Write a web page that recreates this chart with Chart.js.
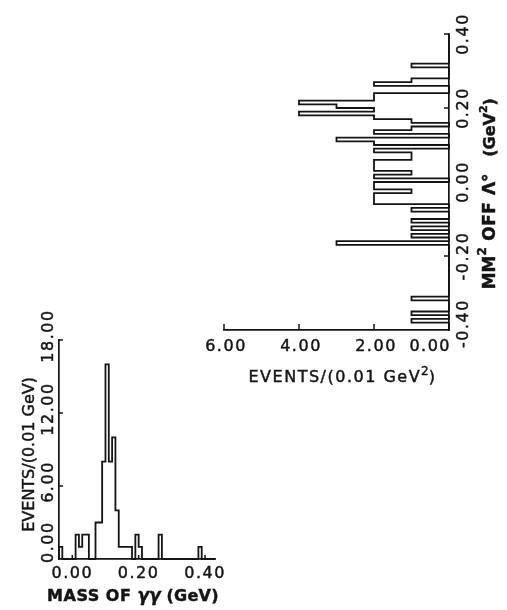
<!DOCTYPE html>
<html>
<head>
<meta charset="utf-8">
<script src="https://cdn.jsdelivr.net/npm/chart.js@4.4.1/dist/chart.umd.min.js"></script>
<style>
  html, body { margin: 0; padding: 0; background: #fff; }
  #wrap { position: relative; width: 507px; height: 610px; }
  #wrap canvas { position: absolute; left: 0; top: 0; }
</style>
</head>
<body>
<div id="wrap">
  <canvas id="mm" width="507" height="610"></canvas>
  <canvas id="gg" width="507" height="610"></canvas>
</div>
<script>
// ---- Missing mass squared off the Lambda: events per 0.01 GeV^2 bin, lowest bin (-0.40) first
const mmBinLow = -0.40;
const mmBinWidth = 0.01;
const mmCounts = [
  0, 0, 1, 0, 1, 0, 0, 0, 1, 0,
  0, 0, 0, 0, 0, 0, 0, 0, 0, 0,
  0, 0, 0, 3, 0, 1, 0, 1, 0, 1,
  0, 0, 1, 0, 2, 2, 2, 1, 2, 2,
  0, 2, 1, 2, 2, 2, 1, 1, 2, 0,
  2, 3, 0, 2, 1, 0, 1, 2, 4, 2,
  3, 4, 2, 2, 0, 0, 2, 1, 0, 0,
  0, 1, 0, 0, 0, 0, 0, 0, 0, 0
];
const mmTicks = [-0.40, -0.20, 0.00, 0.20, 0.40];
const mmTickLabels = ['-0.40', '-0.20', '0.00', '0.20', '0.40'];
const mmEventTicks = [0, 2, 4, 6];
const mmEventLabels = ['0.00', '2.00', '4.00', '6.00'];

// ---- Two-photon invariant mass: events per 0.01 GeV bin, lowest bin (-0.04) first
const ggBinLow = -0.04;
const ggBinWidth = 0.01;
const ggCounts = [
  1, 0, 0, 0, 0,
  2, 1, 2, 2, 0,
  0, 3, 3, 8, 16,
  8, 10, 4, 1, 1,
  1, 1, 0, 2, 1,
  0, 0, 0, 0, 0,
  2, 0, 0, 0, 0,
  0, 0, 0, 0, 0,
  0, 0, 1, 0, 0,
  0, 0
];
const ggMassTicks = [0.00, 0.20, 0.40];
const ggMassLabels = ['0.00', '0.20', '0.40'];
const ggEventTicks = [0, 6, 12, 18];
const ggEventLabels = ['0.00', '6.00', '12.00', '18.00'];

const INK = '#141414';
const FONT = '"DejaVu Sans", "Liberation Sans", sans-serif';

// Histogram outline: a step path along the bins, starting and ending on the baseline.
// When `sideways` is true the bins run along y and the counts along x.
function histOutline(counts, low, width, sideways) {
  const pt = (pos, c) => sideways ? { x: c, y: pos } : { x: pos, y: c };
  const edge = i => Math.round((low + i * width) * 10000) / 10000;
  const pts = [pt(edge(0), 0)];
  counts.forEach((c, i) => {
    pts.push(pt(edge(i), c));
    pts.push(pt(edge(i + 1), c));
  });
  pts.push(pt(edge(counts.length), 0));
  return pts;
}

function seg(ctx, x1, y1, x2, y2) {
  ctx.beginPath(); ctx.moveTo(x1, y1); ctx.lineTo(x2, y2); ctx.stroke();
}

// Filled text with a hairline stroke so it reads as heavy as pen-plotted lettering.
function inkText(ctx, text, x, y) {
  ctx.fillText(text, x, y);
  ctx.strokeText(text, x, y);
}

// Draw a list of text runs one after another along the current x direction.
function drawRuns(ctx, parts, x, y) {
  parts.forEach(p => {
    ctx.font = p.font;
    ctx.letterSpacing = p.ls || '0px';
    inkText(ctx, p.t, x, y + (p.dy || 0));
    x += ctx.measureText(p.t).width;
  });
  ctx.letterSpacing = '0px';
  return x;
}
function runsWidth(ctx, parts) {
  let w = 0;
  parts.forEach(p => {
    ctx.font = p.font; ctx.letterSpacing = p.ls || '0px';
    w += ctx.measureText(p.t).width;
  });
  ctx.letterSpacing = '0px';
  return w;
}

function rotLabel(ctx, text, x, y, align) {
  ctx.save();
  ctx.translate(x, y);
  ctx.rotate(-Math.PI / 2);
  ctx.textAlign = align || 'center';
  ctx.textBaseline = 'middle';
  inkText(ctx, text, 0, 0);
  ctx.restore();
}

function plainAxis(extra) {
  return Object.assign({
    type: 'linear',
    ticks: { display: false },
    grid: { display: false, drawTicks: false },
    border: { display: true, color: INK, width: 1.7 }
  }, extra);
}

const baseOptions = {
  responsive: false,
  animation: false,
  devicePixelRatio: 1,
  plugins: { legend: { display: false }, tooltip: { enabled: false } },
  elements: { point: { radius: 0 }, line: { tension: 0 } }
};

// ---------- Missing-mass-squared histogram (bins vertical, counts growing to the left)
const mmDecor = {
  id: 'mmDecor',
  afterDraw(chart) {
    const ctx = chart.ctx;
    const { left, right, top, bottom } = chart.chartArea;
    const xs = chart.scales.x, ys = chart.scales.y;
    ctx.save();
    ctx.strokeStyle = INK; ctx.fillStyle = INK; ctx.lineWidth = 1.5;
    mmTicks.forEach((v, i) => {
      if (i === 0) return;
      const py = ys.getPixelForValue(v);
      seg(ctx, right, py, right - 5, py);
    });
    mmEventTicks.forEach(v => {
      if (v === 0) return;
      const px = xs.getPixelForValue(v);
      seg(ctx, px, bottom, px, bottom - 6);
    });

    ctx.lineWidth = 0.45;
    ctx.font = '16px ' + FONT;
    ctx.letterSpacing = '1.5px';
    mmTicks.forEach((v, i) => {
      const py = ys.getPixelForValue(v);
      if (i === 0) rotLabel(ctx, mmTickLabels[i], right + 15, py + 18, 'left');
      else rotLabel(ctx, mmTickLabels[i], right + 15, py);
    });
    ctx.textBaseline = 'middle';
    mmEventTicks.forEach((v, i) => {
      const px = xs.getPixelForValue(v);
      ctx.textAlign = v === 0 ? 'right' : 'center';
      inkText(ctx, mmEventLabels[i], v === 0 ? px + 2 : px + 2, bottom + 17);
    });
    ctx.letterSpacing = '0px';

    // horizontal axis title
    const xt = [
      { t: 'EVENTS/(0.01 GeV', font: '16px ' + FONT, ls: '1.5px' },
      { t: '2', font: '12px ' + FONT, dy: -6 },
      { t: ')', font: '16px ' + FONT, ls: '1.5px' }
    ];
    ctx.textAlign = 'left'; ctx.textBaseline = 'middle';
    const w = runsWidth(ctx, xt);
    drawRuns(ctx, xt, (left + right) / 2 + 6 - w / 2, bottom + 48);

    // vertical axis title, reading upwards
    ctx.save();
    ctx.translate(right + 42, ys.getPixelForValue(-0.29));
    ctx.rotate(-Math.PI / 2);
    ctx.textAlign = 'left'; ctx.textBaseline = 'middle';
    drawRuns(ctx, [
      { t: 'MM', font: 'bold 17px ' + FONT },
      { t: '2', font: 'bold 12px ' + FONT, dy: -8 },
      { t: ' OFF ', font: 'bold 17px ' + FONT, ls: '0.5px' },
      { t: 'Λ°', font: 'bold 17px ' + FONT },
      { t: '   (GeV', font: 'bold 16px ' + FONT },
      { t: '2', font: 'bold 11px ' + FONT, dy: -7 },
      { t: ')', font: 'bold 16px ' + FONT }
    ], 0, 0);
    ctx.restore();
    ctx.restore();
  }
};

new Chart(document.getElementById('mm'), {
  type: 'scatter',
  data: {
    datasets: [{
      data: histOutline(mmCounts, mmBinLow, mmBinWidth, true),
      showLine: true,
      borderColor: INK,
      borderWidth: 1.8,
      pointRadius: 0,
      clip: false
    }]
  },
  options: Object.assign({}, baseOptions, {
    layout: { padding: { left: 224, right: 58, top: 34, bottom: 280 } },
    scales: {
      x: plainAxis({ min: 0, max: 6, reverse: true, position: 'bottom' }),
      y: plainAxis({ min: -0.40, max: 0.40, position: 'right' })
    }
  }),
  plugins: [mmDecor]
});

// ---------- Two-photon mass histogram
const ggDecor = {
  id: 'ggDecor',
  afterDraw(chart) {
    const ctx = chart.ctx;
    const { left, right, top, bottom } = chart.chartArea;
    const xs = chart.scales.x, ys = chart.scales.y;
    ctx.save();
    ctx.strokeStyle = INK; ctx.fillStyle = INK; ctx.lineWidth = 1.5;
    ggEventTicks.forEach(v => {
      if (v === 0) return;
      const py = ys.getPixelForValue(v);
      seg(ctx, left, py, left + 4, py);
    });
    ggMassTicks.forEach(v => {
      const px = xs.getPixelForValue(v);
      seg(ctx, px, bottom, px, bottom - 4);
    });

    ctx.lineWidth = 0.45;
    ctx.font = '16px ' + FONT;
    ctx.letterSpacing = '1.5px';
    ggEventTicks.forEach((v, i) => {
      const py = ys.getPixelForValue(v);
      if (v === 0) rotLabel(ctx, ggEventLabels[i], left - 10, py + 4, 'left');
      else rotLabel(ctx, ggEventLabels[i], left - 10, py - 4);
    });
    ctx.textAlign = 'center'; ctx.textBaseline = 'middle';
    ggMassTicks.forEach((v, i) => inkText(ctx, ggMassLabels[i], xs.getPixelForValue(v), bottom + 15));
    ctx.letterSpacing = '0px';

    // vertical axis title
    ctx.font = '16px ' + FONT;
    rotLabel(ctx, 'EVENTS/(0.01 GeV)', left - 29, ys.getPixelForValue(8.6));

    // horizontal axis title
    const xt = [
      { t: 'MASS OF ', font: 'bold 16px ' + FONT, ls: '0.5px' },
      { t: 'γγ', font: 'italic bold 17px ' + FONT },
      { t: ' (GeV)', font: 'bold 16px ' + FONT, ls: '0.3px' }
    ];
    ctx.textAlign = 'left'; ctx.textBaseline = 'middle';
    const w = runsWidth(ctx, xt);
    drawRuns(ctx, xt, (left + right) / 2 - 4 - w / 2, bottom + 38);
    ctx.restore();
  }
};

new Chart(document.getElementById('gg'), {
  type: 'scatter',
  data: {
    datasets: [{
      data: histOutline(ggCounts, ggBinLow, ggBinWidth, false),
      showLine: true,
      borderColor: INK,
      borderWidth: 1.8,
      pointRadius: 0,
      clip: false
    }]
  },
  options: Object.assign({}, baseOptions, {
    layout: { padding: { left: 59, right: 292, top: 340, bottom: 51 } },
    scales: {
      x: plainAxis({ min: -0.04, max: 0.43, position: 'bottom' }),
      y: plainAxis({ min: 0, max: 18, position: 'left' })
    }
  }),
  plugins: [ggDecor]
});
</script>
</body>
</html>
